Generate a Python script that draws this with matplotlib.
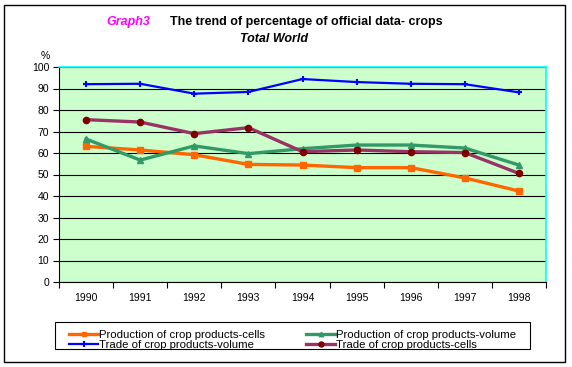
import matplotlib
matplotlib.use("Agg")
import matplotlib.pyplot as plt
from matplotlib.patches import Rectangle
import numpy as np

plt.rcParams['font.family'] = ['Liberation Sans', 'DejaVu Sans']

years = ["1990", "1991", "1992", "1993", "1994", "1995", "1996", "1997", "1998"]
prod_cells = [63.1, 61.4, 59.2, 54.7, 54.4, 53.2, 53.2, 48.4, 42.3]
prod_volume = [66.5, 56.7, 63.3, 59.7, 62.0, 63.7, 63.7, 62.3, 54.4]
trade_volume = [92.0, 92.2, 87.6, 88.4, 94.4, 93.0, 92.2, 92.0, 88.2]
trade_cells = [75.5, 74.4, 69.0, 71.8, 60.6, 61.4, 60.6, 60.2, 50.5]

W, H = 572, 367
fig = plt.figure(figsize=(W / 100, H / 100), dpi=100)
fig.patch.set_facecolor('white')

# outer frame
fig.add_artist(Rectangle((4 / W, 1 - 362 / H), 561 / W, 357 / H, transform=fig.transFigure,
                         fill=False, edgecolor='black', linewidth=1.0))

left, right, top, bottom = 59, 546, 67, 282
ax = fig.add_axes([left / W, 1 - bottom / H, (right - left) / W, (bottom - top) / H])
ax.set_facecolor('#CCFFCC')

x = np.arange(len(years)) + 0.5
l1, = ax.plot(x, prod_cells, color='#FF6600', lw=2.4, marker='s', ms=4)
l2, = ax.plot(x, prod_volume, color='#339966', lw=2.4, marker='^', ms=4)
l3, = ax.plot(x, trade_volume, color='#0000FF', lw=1.6, marker='+', ms=5, mew=1.5)
l4, = ax.plot(x, trade_cells, color='#993366', lw=2.4, marker='o', ms=4.5,
              mfc='#800000', mec='#800000')

ax.set_xlim(0, len(years))
ax.set_ylim(0, 100)
ax.set_yticks(np.arange(0, 101, 10))
ax.set_yticklabels([str(v) for v in range(0, 101, 10)], fontsize=7.5)
ax.set_xticks(np.arange(0, len(years) + 1))
ax.set_xticklabels([])
ax.set_xticks(x, minor=True)
ax.set_xticklabels(years, minor=True, fontsize=7.5)
ax.tick_params(axis='x', which='minor', length=0, pad=8)
ax.tick_params(axis='x', which='major', length=4, direction='out', width=0.8)
ax.tick_params(axis='y', length=4, direction='out', width=0.8, pad=3)

ax.grid(axis='y', color='black', linewidth=0.8)
ax.set_axisbelow(True)
for s in ['top', 'right']:
    ax.spines[s].set_color('#00FFFF')
    ax.spines[s].set_linewidth(1.2)
for s in ['left', 'bottom']:
    ax.spines[s].set_color('black')
    ax.spines[s].set_linewidth(0.8)

fig.text(128 / W, 1 - 22 / H, "Graph3", color='#FF00FF', fontsize=9,
         fontweight='bold', fontstyle='italic', ha='center', va='center')
fig.text(306 / W, 1 - 22 / H, "The trend of percentage of official data- crops",
         color='black', fontsize=9, fontweight='bold', ha='center', va='center')
fig.text(274 / W, 1 - 39 / H, "Total World", color='black', fontsize=9,
         fontweight='bold', fontstyle='italic', ha='center', va='center')
fig.text(45 / W, 1 - 56 / H, "%", fontsize=7.5, ha='center', va='center')

# legend frame
fig.add_artist(Rectangle((55 / W, 1 - 349 / H), 475 / W, 27 / H, transform=fig.transFigure,
                         fill=False, edgecolor='black', linewidth=0.8))
leg = fig.legend([l1, l3, l2, l4],
                 ["Production of crop products-cells", "Trade of crop products-volume",
                  "Production of crop products-volume", "Trade of crop products-cells"],
                 ncol=2, loc='upper left', bbox_to_anchor=(63 / W, 1 - 324 / H),
                 fontsize=8.2, frameon=False, handlelength=2.6,
                 handletextpad=0.05, columnspacing=3.6, labelspacing=0.0,
                 borderpad=0, markerscale=0.8)

fig.savefig('out.png', dpi=100)
